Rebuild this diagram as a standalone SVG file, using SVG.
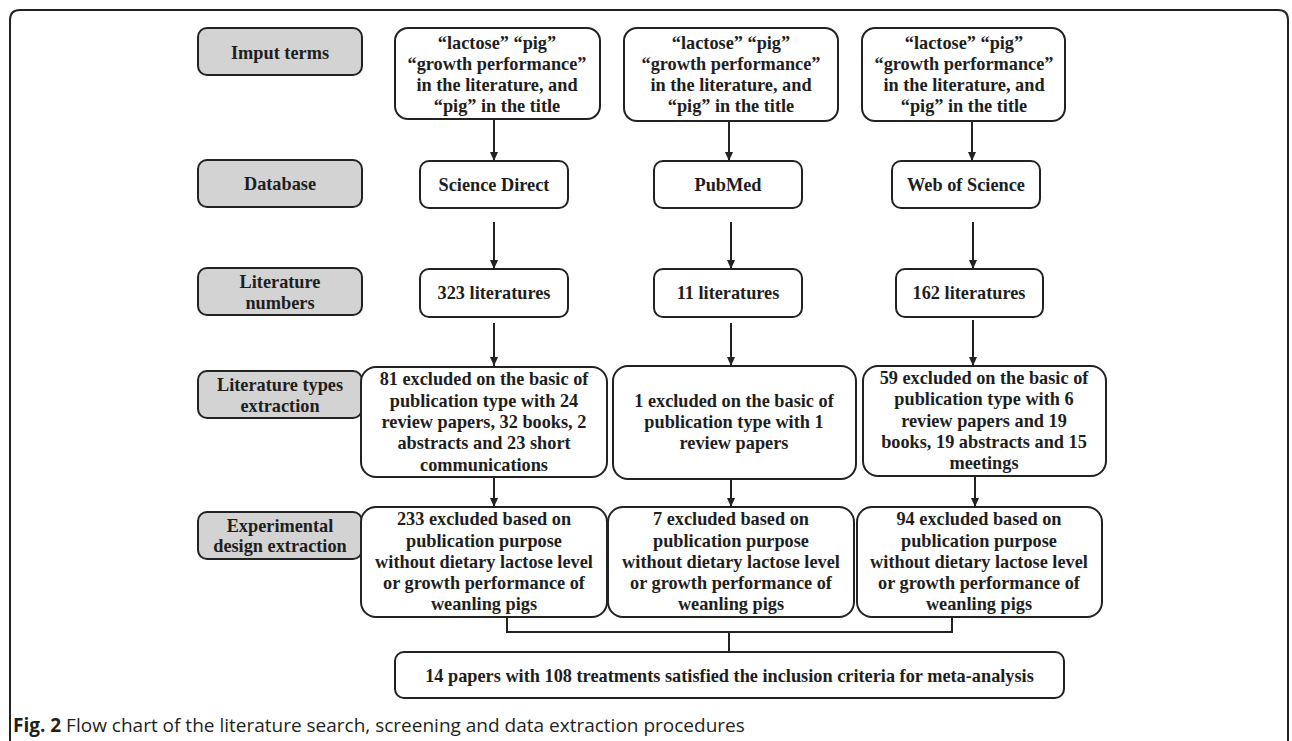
<svg xmlns="http://www.w3.org/2000/svg" width="1292" height="741" viewBox="0 0 1292 741">
<defs>
<style>
.frame{fill:none;stroke:#222;stroke-width:2}
.lbl{fill:#d3d3d3;stroke:#222;stroke-width:2}
.box{fill:#fff;stroke:#222;stroke-width:2}
.t{font-family:"Liberation Serif","Times New Roman",serif;font-weight:bold;font-size:18.3px;fill:#1e1e1e;text-anchor:middle}
.con{fill:none;stroke:#222;stroke-width:2}
.cap{font-family:"Open Sans","Noto Sans",sans-serif;font-size:19px;fill:#231f20}
</style>
<marker id="ah" markerUnits="userSpaceOnUse" markerWidth="9" markerHeight="9" refX="9" refY="4" orient="auto">
<path d="M0,0 L9,4 L0,8 z" fill="#222"/>
</marker>
</defs>
<rect width="1292" height="741" fill="#fff"/>
<path class="frame" d="M10,741 V20 Q10,10 20,10 H1278 Q1288,10 1288,20 V741"/>

<g id="label-imput"><rect class="lbl" x="198" y="28" width="164" height="47" rx="9"/><text class="t" x="280" y="59">Imput terms</text></g>
<g id="label-database"><rect class="lbl" x="198" y="160" width="164" height="47" rx="9"/><text class="t" x="280" y="190">Database</text></g>
<g id="label-numbers"><rect class="lbl" x="198" y="268" width="164" height="47" rx="9"/><text class="t" x="280" y="288">Literature</text><text class="t" x="280" y="309">numbers</text></g>
<g id="label-types"><rect class="lbl" x="198" y="371" width="164" height="47" rx="9"/><text class="t" x="280" y="391">Literature types</text><text class="t" x="280" y="412">extraction</text></g>
<g id="label-design"><rect class="lbl" x="198" y="512" width="164" height="47" rx="9"/><text class="t" x="280" y="532">Experimental</text><text class="t" x="280" y="552">design extraction</text></g>

<g id="input1"><rect class="box" x="395" y="28" width="205" height="91" rx="13"/><text class="t" x="497" y="49">“lactose” “pig”</text><text class="t" x="497" y="70">“growth performance”</text><text class="t" x="497" y="91">in the literature, and</text><text class="t" x="497" y="112">“pig” in the title</text></g>
<g id="input2"><rect class="box" x="624" y="28" width="214" height="93" rx="13"/><text class="t" x="731" y="49">“lactose” “pig”</text><text class="t" x="731" y="70">“growth performance”</text><text class="t" x="731" y="91">in the literature, and</text><text class="t" x="731" y="112">“pig” in the title</text></g>
<g id="input3"><rect class="box" x="862" y="28" width="203" height="93" rx="13"/><text class="t" x="964" y="49">“lactose” “pig”</text><text class="t" x="964" y="70">“growth performance”</text><text class="t" x="964" y="91">in the literature, and</text><text class="t" x="964" y="112">“pig” in the title</text></g>

<g id="db1"><rect class="box" x="420" y="161" width="148" height="47" rx="9"/><text class="t" x="494" y="191">Science Direct</text></g>
<g id="db2"><rect class="box" x="654" y="161" width="148" height="47" rx="9"/><text class="t" x="728" y="191">PubMed</text></g>
<g id="db3"><rect class="box" x="892" y="161" width="148" height="47" rx="9"/><text class="t" x="966" y="191">Web of Science</text></g>

<g id="num1"><rect class="box" x="420" y="269" width="148" height="48" rx="9"/><text class="t" x="494" y="299">323 literatures</text></g>
<g id="num2"><rect class="box" x="654" y="269" width="148" height="48" rx="9"/><text class="t" x="728" y="299">11 literatures</text></g>
<g id="num3"><rect class="box" x="896" y="269" width="147" height="48" rx="9"/><text class="t" x="969" y="299">162 literatures</text></g>

<g id="types1"><rect class="box" x="361" y="367" width="246" height="110" rx="15"/><text class="t" x="484" y="385">81 excluded on the basic of</text><text class="t" x="484" y="407">publication type with 24</text><text class="t" x="484" y="428">review papers, 32 books, 2</text><text class="t" x="484" y="449">abstracts and 23 short</text><text class="t" x="484" y="471">communications</text></g>
<g id="types2"><rect class="box" x="613" y="366" width="243" height="113" rx="15"/><text class="t" x="734" y="407">1 excluded on the basic of</text><text class="t" x="734" y="428">publication type with 1</text><text class="t" x="734" y="449">review papers</text></g>
<g id="types3"><rect class="box" x="863" y="366" width="243" height="110" rx="15"/><text class="t" x="984" y="384">59 excluded on the basic of</text><text class="t" x="984" y="405">publication type with 6</text><text class="t" x="984" y="427">review papers and 19</text><text class="t" x="984" y="448">books, 19 abstracts and 15</text><text class="t" x="984" y="469">meetings</text></g>

<g id="design1"><rect class="box" x="361" y="507" width="246" height="110" rx="15"/><text class="t" x="484" y="525">233 excluded based on</text><text class="t" x="484" y="547">publication purpose</text><text class="t" x="484" y="568">without dietary lactose level</text><text class="t" x="484" y="589">or growth performance of</text><text class="t" x="484" y="610">weanling pigs</text></g>
<g id="design2"><rect class="box" x="608" y="507" width="246" height="110" rx="15"/><text class="t" x="731" y="525">7 excluded based on</text><text class="t" x="731" y="547">publication purpose</text><text class="t" x="731" y="568">without dietary lactose level</text><text class="t" x="731" y="589">or growth performance of</text><text class="t" x="731" y="610">weanling pigs</text></g>
<g id="design3"><rect class="box" x="857" y="507" width="245" height="110" rx="15"/><text class="t" x="979" y="525">94 excluded based on</text><text class="t" x="979" y="547">publication purpose</text><text class="t" x="979" y="568">without dietary lactose level</text><text class="t" x="979" y="589">or growth performance of</text><text class="t" x="979" y="610">weanling pigs</text></g>

<g id="final"><rect class="box" x="395" y="652" width="669" height="46" rx="9"/><text class="t" x="729.5" y="682">14 papers with 108 treatments satisfied the inclusion criteria for meta-analysis</text></g>

<g id="connectors">
<line class="con" x1="494" y1="119" x2="494" y2="161" marker-end="url(#ah)"/>
<line class="con" x1="729" y1="121" x2="729" y2="161" marker-end="url(#ah)"/>
<line class="con" x1="972" y1="121" x2="972" y2="161" marker-end="url(#ah)"/>
<line class="con" x1="494" y1="222" x2="494" y2="269" marker-end="url(#ah)"/>
<line class="con" x1="731" y1="222" x2="731" y2="269" marker-end="url(#ah)"/>
<line class="con" x1="973" y1="222" x2="973" y2="269" marker-end="url(#ah)"/>
<line class="con" x1="494" y1="323" x2="494" y2="366" marker-end="url(#ah)"/>
<line class="con" x1="731" y1="323" x2="731" y2="366" marker-end="url(#ah)"/>
<line class="con" x1="973" y1="320" x2="973" y2="366" marker-end="url(#ah)"/>
<line class="con" x1="494" y1="477" x2="494" y2="507" marker-end="url(#ah)"/>
<line class="con" x1="731" y1="479" x2="731" y2="507" marker-end="url(#ah)"/>
<line class="con" x1="975" y1="476" x2="975" y2="507" marker-end="url(#ah)"/>
<path class="con" d="M507,617 V632 H952 V617"/>
<line class="con" x1="729" y1="632" x2="729" y2="652"/>
</g>

<text class="cap" x="13" y="732"><tspan font-weight="bold">Fig. 2</tspan> Flow chart of the literature search, screening and data extraction procedures</text>
</svg>
